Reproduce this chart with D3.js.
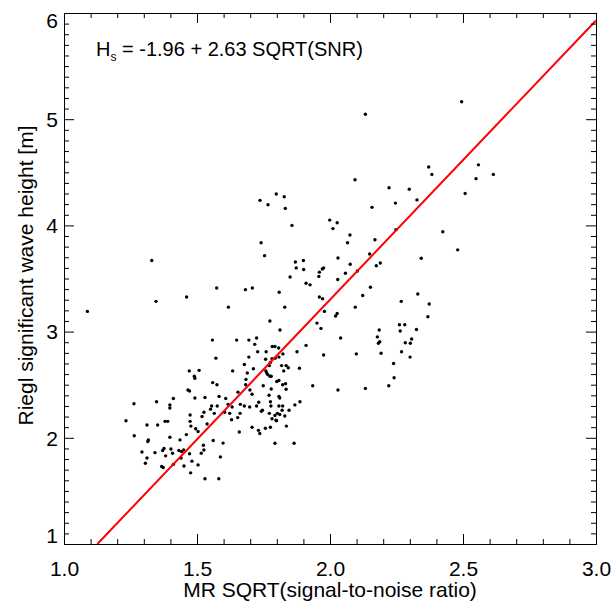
<!DOCTYPE html>
<html>
<head>
<meta charset="utf-8">
<script src="https://cdn.jsdelivr.net/npm/d3@7/dist/d3.min.js"></script>
<style>
body { margin: 0; background: #fff; }
text { font-family: "Liberation Sans", Arial, sans-serif; }
</style>
</head>
<body>
<script>
// Axis ticks
let xTicks = [1.0, 1.5, 2.0, 2.5, 3.0];
let yTicks = [1, 2, 3, 4, 5, 6];
let xMinor = [1.1, 1.2, 1.3, 1.4, 1.6, 1.7, 1.8, 1.9, 2.1, 2.2, 2.3, 2.4, 2.6, 2.7, 2.8, 2.9];
let yMinor = [1.1, 1.2, 1.3, 1.4, 1.5, 1.6, 1.7, 1.8, 1.9, 2.1, 2.2, 2.3, 2.4, 2.5, 2.6, 2.7, 2.8, 2.9,
    3.1, 3.2, 3.3, 3.4, 3.5, 3.6, 3.7, 3.8, 3.9, 4.1, 4.2, 4.3, 4.4, 4.5, 4.6, 4.7, 4.8, 4.9,
    5.1, 5.2, 5.3, 5.4, 5.5, 5.6, 5.7, 5.8, 5.9];

// Fit: Hs = a + b * SQRT(SNR)
let fitA = -1.96;
let fitB = 2.63;

// MR SQRT(SNR)
let snr = [
    1.088, 1.346, 1.461, 1.574, 1.682, 1.708, 1.618, 1.558, 1.649, 1.695, 1.724, 1.717, 1.728, 1.571, 1.695,
    1.678, 1.712, 1.689, 1.634, 1.471, 1.508, 1.490, 1.492, 1.559, 1.575, 1.684, 1.683, 1.699, 1.707, 1.654,
    1.466, 1.472, 1.411, 1.492, 1.530, 1.583, 1.608, 1.348, 1.398, 1.398, 1.263, 1.555, 1.551, 1.576, 1.617,
    1.632, 1.663, 1.678, 1.698, 1.724, 1.732, 1.526, 1.565, 1.604, 1.623, 1.474, 1.519, 1.630, 1.653, 1.662,
    1.233, 1.380, 1.390, 1.474, 1.312, 1.352, 1.477, 1.495, 1.504, 1.538, 1.659, 1.707, 1.731, 1.736, 1.264,
    1.460, 1.398, 1.317, 1.315, 1.436, 1.561, 1.598, 1.376, 1.402, 1.293, 1.342, 1.371, 1.432, 1.442, 1.450,
    1.382, 1.408, 1.472, 1.516, 1.524, 1.526, 1.312, 1.440, 1.588, 1.481, 1.306, 1.411, 1.373, 1.367, 1.451,
    1.504, 1.476, 1.530, 1.582, 1.330,
    1.741, 2.066, 2.169, 1.754, 1.870, 1.900, 1.873, 1.901, 1.850, 2.030, 2.076, 1.976, 1.971, 1.960, 1.958,
    2.058, 2.103, 2.149, 2.174, 2.189, 2.343, 1.910, 1.925, 2.029, 1.809, 1.960, 1.972, 2.152, 2.123, 2.330,
    2.268, 2.373, 1.830, 1.979, 2.095, 2.027, 2.021, 2.368, 1.774, 1.951, 1.966, 1.812, 2.261, 2.281, 2.264,
    2.185, 2.325, 2.178, 2.187, 2.182, 2.307, 2.302, 2.283, 2.040, 1.910, 2.192, 2.269, 2.301, 2.099, 1.976,
    1.876, 1.783, 1.793, 1.807, 1.760, 1.823, 1.808, 1.758, 1.782, 1.794, 1.776, 1.772, 1.818, 1.835, 1.843,
    1.826, 1.885, 1.759, 1.762, 1.766, 1.774, 1.779, 1.800, 1.808, 1.822, 1.833, 1.749, 1.779, 1.935, 2.030,
    2.133, 2.221, 2.241, 2.239, 1.835, 1.771, 1.808, 1.811, 1.776, 1.778, 1.808, 1.822, 1.820, 1.772, 1.802,
    1.811, 1.793, 1.782, 1.797, 1.799, 1.836, 1.757, 1.776, 1.868, 1.887, 1.846, 1.830, 1.746, 1.742, 1.793,
    1.865,
    2.133, 2.371, 2.383, 2.094, 2.222, 2.298, 2.327, 2.246, 2.158, 1.737, 1.767, 1.798, 1.828, 1.832, 1.857,
    1.999, 2.027, 2.011, 2.075, 2.248,
    2.495, 2.558, 2.549, 2.614, 2.508, 2.424, 2.480
];

// Riegl significant wave height [m]
let hs = [
    3.190, 3.285, 3.326, 3.410, 3.395, 3.410, 3.230, 2.920, 2.920, 2.920, 2.940, 2.880, 2.810, 2.750, 2.760,
    2.690, 2.650, 2.610, 2.630, 2.630, 2.635, 2.580, 2.560, 2.520, 2.500, 2.550, 2.500, 2.450, 2.410, 2.430,
    2.450, 2.440, 2.370, 2.375, 2.380, 2.390, 2.370, 2.340, 2.310, 2.280, 2.320, 2.300, 2.270, 2.300, 2.315,
    2.290, 2.315, 2.300, 2.290, 2.300, 2.335, 2.240, 2.230, 2.240, 2.230, 2.215, 2.200, 2.170, 2.190, 2.230,
    2.160, 2.155, 2.155, 2.155, 2.120, 2.120, 2.110, 2.085, 2.060, 2.130, 2.055, 2.100, 2.070, 2.040, 2.020,
    2.030, 2.005, 1.980, 1.965, 1.980, 1.975, 1.950, 1.900, 1.895, 1.866, 1.860, 1.880, 1.880, 1.870, 1.885,
    1.830, 1.855, 1.850, 1.855, 1.930, 1.885, 1.810, 1.810, 1.820, 1.780, 1.760, 1.750, 1.720, 1.730, 1.735,
    1.745, 1.670, 1.615, 1.615, 3.670,
    3.837, 3.837, 3.865, 3.715, 3.655, 3.670, 3.600, 3.585, 3.514, 3.693, 3.634, 3.600, 3.590, 3.560, 3.520,
    3.550, 3.570, 3.730, 3.620, 3.646, 3.690, 3.455, 3.440, 3.490, 3.370, 3.326, 3.310, 3.417, 3.340, 3.354,
    3.285, 3.260, 3.230, 3.190, 3.230, 3.170, 3.147, 3.140, 3.100, 3.080, 3.030, 3.015, 3.065, 3.065, 3.006,
    3.015, 3.020, 2.950, 2.905, 2.890, 2.930, 2.890, 2.895, 2.940, 2.870, 2.796, 2.810, 2.760, 2.790, 2.780,
    2.810, 2.860, 2.860, 2.845, 2.810, 2.790, 2.760, 2.740, 2.745, 2.750, 2.710, 2.680, 2.680, 2.680, 2.660,
    2.630, 2.655, 2.630, 2.610, 2.595, 2.580, 2.580, 2.530, 2.540, 2.500, 2.510, 2.490, 2.460, 2.490, 2.450,
    2.465, 2.490, 2.566, 2.700, 2.457, 2.400, 2.390, 2.375, 2.340, 2.300, 2.300, 2.300, 2.260, 2.230, 2.230,
    2.220, 2.210, 2.180, 2.165, 2.160, 2.110, 2.090, 2.100, 2.310, 2.340, 2.260, 2.205, 2.260, 2.250, 1.948,
    1.948,
    5.046, 4.550, 4.480, 4.430, 4.355, 4.340, 4.240, 4.210, 4.170, 4.236, 4.195, 4.296, 4.270, 4.160, 4.000,
    4.050, 4.025, 3.970, 3.910, 3.960,
    5.165, 4.570, 4.440, 4.480, 4.300, 3.940, 3.770
];

let points = snr.map((d, i) => ({x: d, y: hs[i]}));

// Setup SVG
let margin = {top: 13, right: 16, bottom: 57, left: 64},
    width = 612 - margin.left - margin.right,
    height = 601 - margin.top - margin.bottom;

let svg = d3.select('body').append('svg')
    .attr('width', 612)
    .attr('height', 601);

let g = svg.append('g')
    .attr('transform', 'translate(' + margin.left + ',' + margin.top + ')');

let x = d3.scaleLinear().domain([1, 3]).range([0, width]);
let y = d3.scaleLinear().domain([1, 6]).range([height, 0]);

svg.append('defs').append('clipPath').attr('id', 'plot-clip')
    .append('rect').attr('width', width).attr('height', height);

// Points
g.append('g').selectAll('circle')
    .data(points)
    .enter().append('circle')
    .attr('cx', d => x(d.x))
    .attr('cy', d => y(d.y))
    .attr('r', 1.7)
    .attr('fill', '#000');

// Fit line, from where it enters at y=1 up to x=3
let x0 = (1 - fitA) / fitB;
let fitLine = d3.line().x(d => x(d)).y(d => y(fitA + fitB * d));
g.append('path')
    .attr('clip-path', 'url(#plot-clip)')
    .attr('d', fitLine([x0, 3]))
    .attr('fill', 'none')
    .attr('stroke', '#ff0000')
    .attr('stroke-width', 2);

// Axes: major + minor, ticks pointing inward on all four sides
function styleAxis(sel) {
    sel.selectAll('path, line').attr('stroke', '#000').attr('stroke-width', 1);
    sel.selectAll('text').attr('fill', '#000').style('font-size', '21px')
        .style('font-family', '"Liberation Sans", Arial, sans-serif');
}

let fmt = d3.format('.1f');

g.append('g').attr('transform', `translate(0,${height})`)
    .call(d3.axisBottom(x).tickValues(xTicks).tickFormat(fmt).tickSize(-10).tickSizeOuter(0).tickPadding(17))
    .call(styleAxis);
g.append('g').attr('transform', `translate(0,${height})`)
    .call(d3.axisBottom(x).tickValues(xMinor).tickFormat('').tickSize(-5).tickSizeOuter(0))
    .call(styleAxis);
g.append('g')
    .call(d3.axisTop(x).tickValues(xTicks).tickFormat('').tickSize(-10).tickSizeOuter(0))
    .call(styleAxis);
g.append('g')
    .call(d3.axisTop(x).tickValues(xMinor).tickFormat('').tickSize(-5).tickSizeOuter(0))
    .call(styleAxis);

let yAxisG = g.append('g')
    .call(d3.axisLeft(y).tickValues(yTicks).tickFormat(d3.format('d')).tickSize(-10).tickSizeOuter(0).tickPadding(6))
    .call(styleAxis);
// end labels are pushed inside the axis range
yAxisG.selectAll('.tick text')
    .attr('dy', d => d === 1 ? '-0.05em' : d === 6 ? '0.7em' : '0.35em');
g.append('g')
    .call(d3.axisLeft(y).tickValues(yMinor).tickFormat('').tickSize(-5).tickSizeOuter(0))
    .call(styleAxis);
g.append('g').attr('transform', `translate(${width},0)`)
    .call(d3.axisRight(y).tickValues(yTicks).tickFormat('').tickSize(-10).tickSizeOuter(0))
    .call(styleAxis);
g.append('g').attr('transform', `translate(${width},0)`)
    .call(d3.axisRight(y).tickValues(yMinor).tickFormat('').tickSize(-5).tickSizeOuter(0))
    .call(styleAxis);

// Axis titles
svg.append('text')
    .attr('x', margin.left + width / 2)
    .attr('y', 597)
    .attr('text-anchor', 'middle')
    .style('font-size', '21px')
    .text('MR SQRT(signal-to-noise ratio)');

svg.append('text')
    .attr('transform', `translate(33,${margin.top + height / 2 - 3}) rotate(-90)`)
    .attr('text-anchor', 'middle')
    .style('font-size', '21px')
    .text('Riegl significant wave height [m]');

// Equation
let eq = svg.append('text')
    .attr('x', 96)
    .attr('y', 56)
    .style('font-size', '20px');
eq.append('tspan').text('H');
eq.append('tspan').attr('dy', 5).style('font-size', '12px').text('s');
eq.append('tspan').attr('dy', -5).text(' = -1.96 + 2.63 SQRT(SNR)');
</script>
</body>
</html>
